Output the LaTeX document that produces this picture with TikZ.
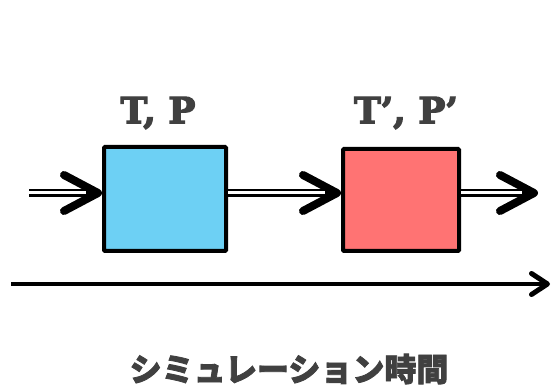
\documentclass[tikz,border=0pt]{standalone}
\usepackage{fontspec}
\newfontfamily\cjk[BoldFeatures={FakeBold=2.5}]{Noto Sans CJK JP}
\newfontfamily\slab[BoldFeatures={FakeBold=3.5}]{DejaVu Serif}
\usetikzlibrary{arrows.meta}
\definecolor{txtgray}{HTML}{404040}
\definecolor{boxblue}{HTML}{6DD0F4}
\definecolor{boxred}{HTML}{FF7373}
\tikzset{
  boxnode/.style={draw=black, line width=4pt, rounded corners=1pt, inner sep=0pt},
  bigchev/.style={-{Straight Barb[length=34pt,width=36pt,line width=8pt,round]}},
  shaft/.style={line width=8pt},
  gap/.style={white, line width=3pt},
  lbl/.style={text=txtgray, font=\slab\bfseries\fontsize{36}{36}\selectfont},
}
\begin{document}
\begin{tikzpicture}[x=1pt,y=1pt]
\useasboundingbox (0,0) rectangle (552,387);
% boxes
\node[boxnode, fill=boxblue, minimum width=122pt, minimum height=104pt] (b1) at (165,188) {};
\node[boxnode, fill=boxred, minimum width=116pt, minimum height=102pt] (b2) at (401,187) {};
% labels
\node[lbl] (l1) at (158,274) {T, P};
\node[lbl] (l2) at (406,274) {T’, P’};
% coordinates
\coordinate (in) at (29,194);
\coordinate (t1) at (b1.west |- in);
\coordinate (o1) at (b1.east |- in);
\coordinate (t2) at (b2.west |- in);
\coordinate (o2) at (b2.east |- in);
\coordinate (t3) at (538,194);
% double arrows
\foreach \a/\b in {in/t1, o1/t2, o2/t3}{
  \draw[shaft, bigchev] (\a) -- (\b);
  \draw[gap, shorten >=16pt] (\a) -- (\b);
}
% timeline
\coordinate (tl1) at (11,103);
\coordinate (tl2) at (550,103);
\draw[line width=4pt, -{Straight Barb[length=16pt,width=21pt,line width=5pt,round]}] (tl1) -- (tl2);
\node[text=txtgray, font=\cjk\bfseries\fontsize{32}{32}\selectfont] (cap) at (289,18) {シミュレーション時間};
\end{tikzpicture}
\end{document}
